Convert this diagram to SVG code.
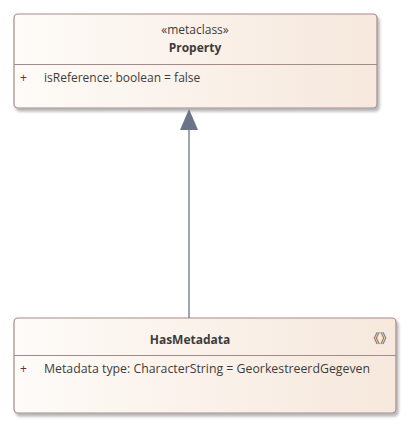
<svg xmlns="http://www.w3.org/2000/svg" width="410" height="429" viewBox="0 0 410 429">
<defs>
<linearGradient id="g" x1="0" y1="0" x2="1" y2="0">
<stop offset="0" stop-color="#fefbf8"/>
<stop offset="1" stop-color="#f6e8dc"/>
</linearGradient>
<filter id="sh" x="-5%" y="-5%" width="110%" height="120%">
<feGaussianBlur in="SourceAlpha" stdDeviation="1.5"/>
<feOffset dx="2" dy="3"/>
<feComponentTransfer><feFuncA type="linear" slope="0.3"/></feComponentTransfer>
<feMerge><feMergeNode/><feMergeNode in="SourceGraphic"/></feMerge>
</filter>
</defs>
<style>
.box{fill:url(#g);stroke:#a58a8a;stroke-width:1.2}
.div{stroke:#a58a8a;stroke-width:1}
.t{font-family:"Open Sans","Liberation Sans",sans-serif;font-size:12px;fill:#3c3c3c}
.b{font-weight:bold;font-size:12px}
.p{font-family:"Open Sans","Liberation Sans",sans-serif;font-size:12px;fill:#8b1a3a}
.s{font-family:"Noto Sans CJK SC",sans-serif;font-size:13px;fill:#4a4a4a}
.edge{stroke:#6b7489;stroke-width:1.3;fill:none}
.head{fill:#6b7489}
</style>
<g id="Property">
<rect class="box" x="14" y="14" width="363" height="94" rx="4" filter="url(#sh)"/>
<line class="div" x1="14" y1="64.5" x2="377" y2="64.5"/>
<text class="t" x="195" y="34" text-anchor="middle">«metaclass»</text>
<text class="t b" x="195" y="52" text-anchor="middle">Property</text>
<text class="p" x="20" y="82">+</text>
<text class="t" x="44" y="82">isReference: boolean = false</text>
</g>
<g id="HasMetadata">
<rect class="box" x="14" y="318" width="382" height="95" rx="4" filter="url(#sh)"/>
<line class="div" x1="14" y1="355.5" x2="396" y2="355.5"/>
<text class="t b" x="190" y="344" text-anchor="middle">HasMetadata</text>
<text class="s" x="380" y="343" text-anchor="middle">《》</text>
<text class="p" x="20" y="373">+</text>
<text class="t" x="44" y="373" textLength="326" lengthAdjust="spacingAndGlyphs">Metadata type: CharacterString = GeorkestreerdGegeven</text>
</g>
<g id="connectors">
<line class="edge" x1="189" y1="318" x2="189" y2="129"/>
<polygon class="head" points="189,109 180,130 198,130"/>
</g>
</svg>
